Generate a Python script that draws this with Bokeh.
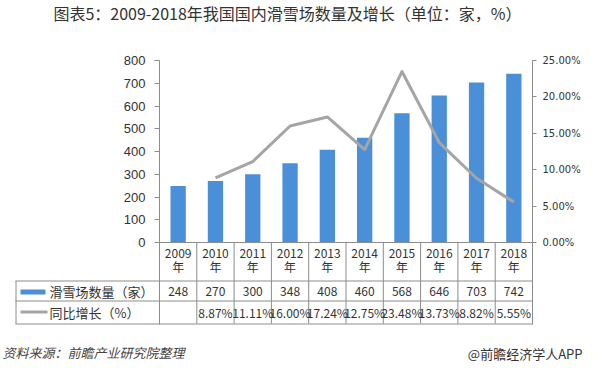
from bokeh.plotting import figure
from bokeh.models import (FactorRange, Range1d, LinearAxis, FixedTicker, PrintfTickFormatter,
                          Span, ColumnDataSource)
from bokeh.transform import dodge
from bokeh.core.properties import value
from bokeh.embed import file_html
from bokeh.resources import INLINE

# ---------------- data ----------------
years = ["2009", "2010", "2011", "2012", "2013", "2014", "2015", "2016", "2017", "2018"]
resorts = [248, 270, 300, 348, 408, 460, 568, 646, 703, 742]
growth = [None, 8.87, 11.11, 16.00, 17.24, 12.75, 23.48, 13.73, 8.82, 5.55]
left_ticks = [0, 100, 200, 300, 400, 500, 600, 700, 800]
right_ticks = [0, 5, 10, 15, 20, 25]
year_suffix = "年"
series_names = ["滑雪场数量（家）", "同比增长（%）"]
title_text = "图表5：2009-2018年我国国内滑雪场数量及增长（单位：家，%）"
source_note = "资料来源：前瞻产业研究院整理"
brand = "@前瞻经济学人APP"

# ---------------- layout (figure pixel coords) ----------------
W, H = 583, 365
FL, FR, FT, FB = 159, 532, 60, 324
ZERO = 242                 # pixel row of value 0
LMAX, RMAX = left_ticks[-1], right_ticks[-1]
PX = ZERO - FT
NCAT = len(years)


def yd(py):
    return (ZERO - py) * LMAX / PX


def yp(py):
    return (ZERO - py) * RMAX / PX


def sx(px):
    # pixel x -> synthetic categorical coordinate
    return (px - FL) * NCAT / (FR - FL)


BLUE = "#4A8FD8"
GRAY_LINE = "#A5A5A5"
RULE = "#8C8C8C"
TXT = "#333333"
CJK = "Noto Sans CJK SC"

p = figure(x_range=FactorRange(*years, range_padding=0),
           y_range=Range1d(yd(FB), LMAX),
           width=W, height=H, x_axis_location=None,
           min_border_left=FL, min_border_right=W - FR,
           min_border_top=FT, min_border_bottom=H - FB,
           toolbar_location=None, output_backend="svg")
p.outline_line_color = None
p.background_fill_color = "white"
p.border_fill_color = "white"
p.ygrid.grid_line_color = None
p.xgrid.grid_line_color = None

p.extra_y_ranges = {"pct": Range1d(yp(FB), RMAX), "py": Range1d(FB, FT)}
PXR = dict(y_range_name="py", level="overlay")

ya = p.yaxis[0]
ya.ticker = FixedTicker(ticks=left_ticks)
ya.axis_line_color = RULE
ya.major_tick_line_color = RULE
ya.major_tick_out = 5
ya.major_tick_in = 0
ya.minor_tick_line_color = None
ya.major_label_standoff = 9
ya.major_label_text_font = "Liberation Sans"
ya.major_label_text_font_size = "13px"
ya.major_label_text_color = TXT

ra = LinearAxis(y_range_name="pct", ticker=FixedTicker(ticks=right_ticks),
                formatter=PrintfTickFormatter(format="%.2f%%"))
ra.axis_line_color = RULE
ra.major_tick_line_color = RULE
ra.major_tick_out = 4
ra.major_tick_in = 0
ra.minor_tick_line_color = None
ra.major_label_standoff = 6
ra.major_label_text_font = "DejaVu Sans"
ra.major_label_text_font_size = "10px"
ra.major_label_text_color = TXT
p.add_layout(ra, "right")

src = ColumnDataSource(dict(
    year=years,
    resorts=resorts,
    resorts_txt=[str(v) for v in resorts],
    growth_txt=["" if g is None else f"{g:.2f}%" for g in growth],
    suffix=[year_suffix] * len(years),
))

p.vbar(x="year", top="resorts", width=0.41, source=src, fill_color=BLUE, line_color=None)

line_src = ColumnDataSource(dict(
    year=[y for y, g in zip(years, growth) if g is not None],
    growth=[g for g in growth if g is not None],
))
p.line(x="year", y="growth", source=line_src, y_range_name="pct",
       line_color=GRAY_LINE, line_width=3, line_join="round")

# zero line
p.add_layout(Span(location=0, dimension="width", line_color=RULE, line_width=1))

# table inner vertical rules
p.segment(x0=dodge("year", -0.5, range=p.x_range), y0=0,
          x1=dodge("year", -0.5, range=p.x_range), y1=yd(323),
          source=ColumnDataSource(dict(year=years[1:])), line_color=RULE, line_width=1)

# table horizontal rules + left border (pixel space)
rows_y = [280.5, 300.5, 323.5]
p.segment(x0=[sx(15)] * 3 + [sx(15.5)], x1=[sx(FR)] * 3 + [sx(15.5)],
          y0=rows_y + [280.5], y1=rows_y + [323.5],
          line_color=RULE, line_width=1, **PXR)

# table text
tfont = value(CJK)
for ypix, col in ((253, "year"), (266, "suffix"), (290.5, "resorts_txt"), (312, "growth_txt")):
    p.text(x="year", y=yd(ypix), text=col, source=src, text_font=tfont, text_font_size="12px",
           text_align="center", text_baseline="middle", text_color=TXT)

# row headers with swatches
p.quad(left=[sx(20)], right=[sx(45)], top=[289], bottom=[294], fill_color=BLUE, line_color=None, **PXR)
p.quad(left=[sx(20)], right=[sx(47)], top=[310], bottom=[313], fill_color=GRAY_LINE, line_color=None, **PXR)
p.text(x=[sx(49)] * 2, y=[290.5, 312], text=series_names, text_font=tfont, text_font_size="13px",
       text_color=TXT, text_baseline="middle", **PXR)

# title, source, brand
p.text(x=[sx(287)], y=[12], text=[title_text], text_font=tfont, text_font_size="16px",
       text_color=TXT, text_align="center", text_baseline="middle", **PXR)
p.text(x=[sx(2)], y=[352], text=[source_note], text_font=tfont, text_font_size="13px",
       text_color="#444444", text_font_style="italic", text_baseline="middle", **PXR)
p.text(x=[sx(582)], y=[353], text=[brand], text_font=tfont, text_font_size="13px",
       text_color=TXT, text_align="right", text_baseline="middle", **PXR)

open("out.html", "w").write(file_html(p, INLINE))
